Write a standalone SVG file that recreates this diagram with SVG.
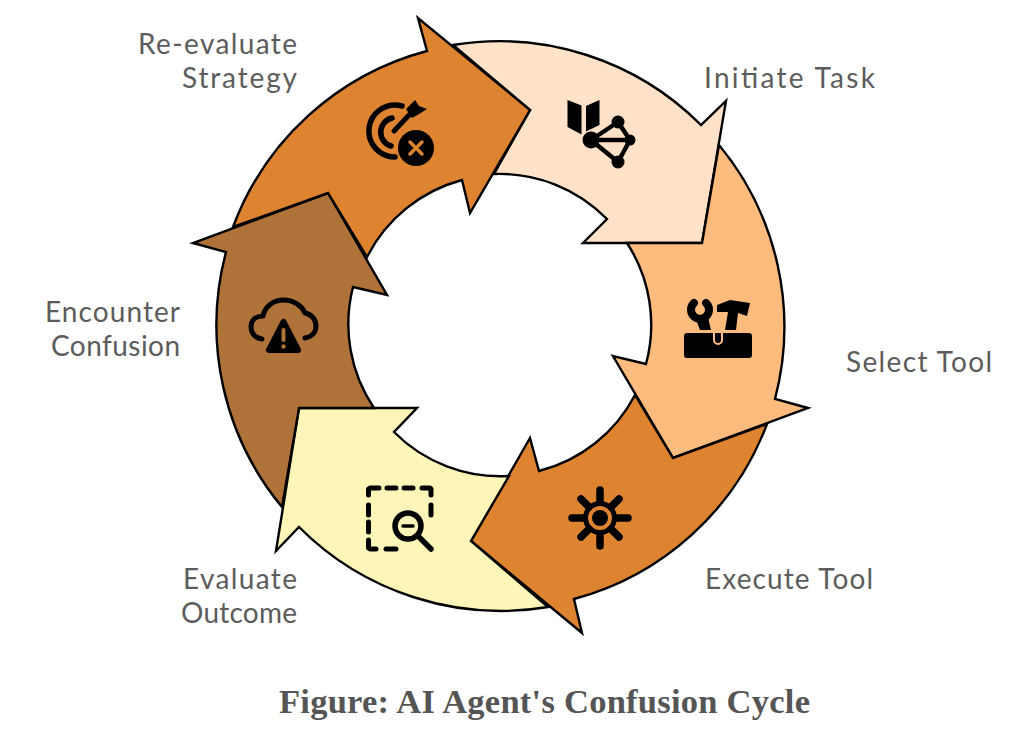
<svg xmlns="http://www.w3.org/2000/svg" width="1022" height="730" viewBox="0 0 1022 730">
<style>
.a{stroke:#000;stroke-width:2.4;stroke-linejoin:miter}
.l{font-family:"Lato","Noto Sans",sans-serif;font-size:28px;fill:#5c5c5c}
.c{font-family:"Liberation Serif",serif;font-weight:bold;font-size:34.500px;fill:#555}
.k{fill:#000;stroke:none}
.s{fill:none;stroke:#000;stroke-linecap:round;stroke-linejoin:round}
</style>
<rect width="1022" height="730" fill="#fff"/>
<g id="connectors"/>
<g id="initiate-task">
<path class="a" fill="#FFE2C8" d="M453 45A285 285 0 0 1 701 125L726 101L702 243L583 243L607 219A150 150 0 0 0 494 174L530 110Z"/>
<path class="k" stroke-linejoin="round" d="M567.500 100L581.500 105.500V134.500L567.500 127ZM586 106L599.500 100V125L586 131.500Z"/>
<path class="s" stroke-width="4.500" d="M591 140L618 122L630 140L618 162ZM591 140H630"/>
<circle class="k" cx="591" cy="140" r="8.500"/><circle class="k" cx="618" cy="122" r="6.500"/><circle class="k" cx="618" cy="162" r="6.500"/><circle class="k" cx="630" cy="140" r="5.500"/>
<text class="l" x="704" y="88" textLength="171">Initiate Task</text>
</g>
<g id="select-tool">
<path class="a" fill="#FEBB7E" d="M719 145A285 285 0 0 1 775 399L808 408L673 458L613 356L646 364A150 150 0 0 0 627 243L702 243Z"/>
<rect class="k" x="684" y="333" width="68" height="25" rx="3"/>
<path d="M714 333V340A4 4 0 0 0 722 340V333" fill="none" stroke="#FEBB7E" stroke-width="2"/>
<path class="s" stroke-width="8" stroke-linecap="butt" d="M694 303A9 9 0 1 0 706 303"/>
<path class="k" d="M695 317H708L711 330H700ZM717 305L730 300L750 303L747 316L738 313L736 330H725L728 312L717 312Z"/>
<text class="l" x="846" y="372" textLength="146">Select Tool</text>
</g>
<g id="execute-tool">
<path class="a" fill="#DE8430" d="M767 424A285 285 0 0 1 574 599L582 633L471 541L530 438L539 471A150 150 0 0 0 635 395L673 458Z"/>
<circle class="k" cx="600" cy="518" r="17"/><circle cx="600" cy="518" r="12" fill="#DE8430"/><circle class="k" cx="600" cy="518" r="8"/>
<path class="s" stroke-width="7.500" d="M600 502V490M600 534V546M584 518H572M616 518H628M589 507L581 499M611 507L619 499M589 529L581 537M611 529L619 537"/>
<text class="l" x="705" y="589" textLength="168">Execute Tool</text>
</g>
<g id="evaluate-outcome">
<path class="a" fill="#FEF6B8" d="M548 607A285 285 0 0 1 299 527L276 551L299 408L417 408L394 432A150 150 0 0 0 509 476L471 541Z"/>
<path class="s" stroke-width="5" d="M368.500 495V489L370 488H379M387 488H396M404 488H413M422 488H430L431 489V495M431 505V515M368.500 505V515M368.500 522V532M368.500 540V548L370 549H376M386 549H396"/>
<circle class="s" cx="408" cy="526" r="13" stroke-width="5.500"/>
<path class="s" stroke-width="3.500" d="M403 526H413"/>
<path class="s" stroke-width="5.500" d="M419 537L431 549"/>
<text class="l" x="183" y="589" textLength="114">Evaluate</text>
<text class="l" x="181" y="623" textLength="116">Outcome</text>
</g>
<g id="encounter-confusion">
<path class="a" fill="#AF7239" d="M282 507A285 285 0 0 1 226 252L193 243L328 193L387 295L353 287A150 150 0 0 0 374 408L299 408Z"/>
<path class="s" stroke-width="5" d="M262 339C254 338 251 332 251 327C251 320 256 316 263 316C265 306 274 300 283 300C294 300 302 306 305 313C311 314 316 319 316 326C316 333 311 337 305 338"/>
<path d="M283.500 322L269 350H298Z" fill="#000" stroke="#000" stroke-width="6" stroke-linejoin="round"/>
<path d="M283.500 330V340" stroke="#AF7239" stroke-width="4" stroke-linecap="round"/>
<circle cx="283.500" cy="346.500" r="2.200" fill="#AF7239"/>
<text class="l" x="45" y="322" textLength="135">Encounter</text>
<text class="l" x="51" y="356" textLength="129">Confusion</text>
</g>
<g id="re-evaluate-strategy">
<path class="a" fill="#DE8430" d="M233 227A285 285 0 0 1 427 51L418 18L530 110L470 213L462 180A150 150 0 0 0 367 257L328 193Z"/>
<path class="s" stroke-width="5.500" d="M402 106A26 26 0 1 0 395 157M392 118A14.500 14.500 0 0 0 391 146"/>
<path class="s" stroke-width="5" d="M394 131L411 113"/>
<path class="k" d="M406 109L415 100L419 106L427 109L419 114L412 118Z"/>
<circle class="k" cx="416" cy="148" r="18"/>
<path d="M410 142L422 154M422 142L410 154" stroke="#DE8430" stroke-width="3.500" stroke-linecap="round"/>
<text class="l" x="138" y="54" textLength="159">Re-evaluate</text>
<text class="l" x="182" y="88" textLength="115">Strategy</text>
</g>
<text class="c" x="279" y="713" textLength="531">Figure: AI Agent's Confusion Cycle</text>
</svg>
